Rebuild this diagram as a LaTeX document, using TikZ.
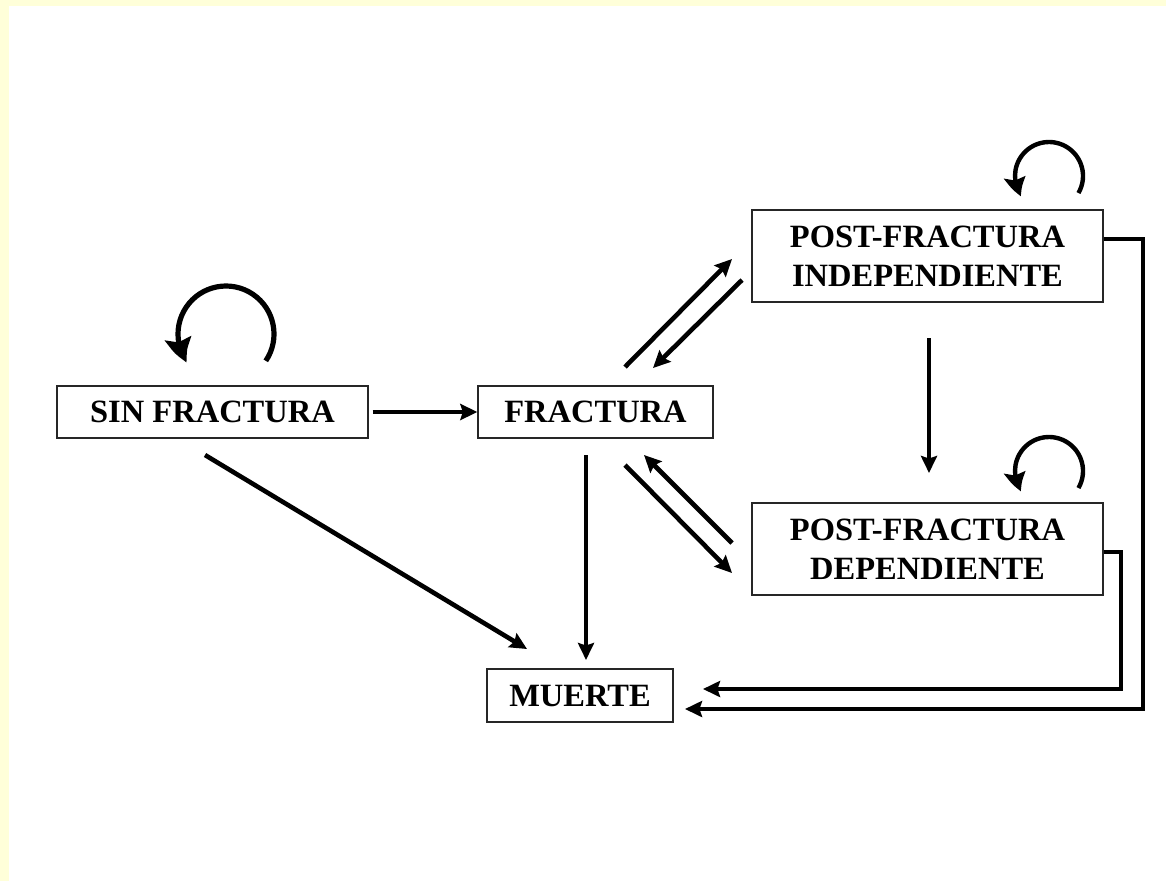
\documentclass[tikz,border=0pt]{standalone}
\usepackage{fontspec}
\setmainfont{Liberation Serif}
\usetikzlibrary{arrows.meta,bending}
\definecolor{bgyellow}{RGB}{255,255,217}
\begin{document}
\begin{tikzpicture}[x=1pt,y=-1pt,
  statebox/.style={draw=black!85,line width=1.3pt,fill=white,inner sep=0pt,align=center,
    font=\fontsize{32.5}{39}\selectfont\bfseries},
  arr/.style={line width=4.6pt,line join=miter,-{Stealth[length=17pt,width=16pt,inset=2.5pt]}},
  bigloop/.style={line width=5.2pt,-{Stealth[length=26pt,width=26pt,inset=4pt,bend]}},
  smallloop/.style={line width=4.4pt,-{Stealth[length=20pt,width=21pt,inset=3pt,bend]}}]
% background
\fill[white] (0,0) rectangle (1166,881);
\fill[bgyellow] (0,0) rectangle (1166,6);
\fill[bgyellow] (0,0) rectangle (9,881);
\useasboundingbox (0,0) rectangle (1166,881);

% nodes
\node[statebox,minimum width=311pt,minimum height=52pt] (sin) at (212.5,412) {SIN FRACTURA};
\node[statebox,minimum width=235pt,minimum height=52pt] (frac) at (595.5,412) {FRACTURA};
\node[statebox,minimum width=351pt,minimum height=92pt] (pfi) at (927.5,256) {POST-FRACTURA\\INDEPENDIENTE};
\node[statebox,minimum width=351pt,minimum height=92pt] (pfd) at (927.5,549) {POST-FRACTURA\\DEPENDIENTE};
\node[statebox,minimum width=186pt,minimum height=53pt] (muerte) at (580,695.5) {MUERTE};

% free ends of connectors
\coordinate (sinM0) at (205,455);
\coordinate (sinM1) at (527,649);
\coordinate (fM0) at (586,455);
\coordinate (fM1) at (586,660);
\coordinate (fI0) at (625,367);
\coordinate (fI1) at (732,259);
\coordinate (iF0) at (742,280);
\coordinate (iF1) at (653,368);
\coordinate (fD0) at (625,465);
\coordinate (fD1) at (732,573);
\coordinate (dF0) at (732,543);
\coordinate (dF1) at (644,455);
\coordinate (iD0) at (929,338);
\coordinate (iD1) at (929,473);
\coordinate (iM0) at (pfi.east |- 0,239);
\coordinate (iMc) at (1143,709);
\coordinate (iM1) at (685,709);
\coordinate (dM0) at (pfd.east |- 0,552);
\coordinate (dMc) at (1121,689);
\coordinate (dM1) at (703,689);

% connectors
\draw[arr,shorten <=4pt] (sin.east) -- (frac.west);
\draw[arr] (fM0) -- (fM1);
\draw[arr] (sinM0) -- (sinM1);
\draw[arr] (fI0) -- (fI1);
\draw[arr] (iF0) -- (iF1);
\draw[arr] (fD0) -- (fD1);
\draw[arr] (dF0) -- (dF1);
\draw[arr] (iD0) -- (iD1);
\draw[arr] (iM0) -| (iMc) -- (iM1);
\draw[arr] (dM0) -| (dMc) -- (dM1);

% self loops
\coordinate (cs) at (226,334);
\coordinate (ci) at (1049,176);
\coordinate (cd) at (1049,471);
\draw[bigloop] ([shift={(34:48)}]cs) arc[start angle=34,end angle=-216,radius=48];
\draw[smallloop] ([shift={(30:34)}]ci) arc[start angle=30,end angle=-216,radius=34];
\draw[smallloop] ([shift={(30:34)}]cd) arc[start angle=30,end angle=-216,radius=34];
\end{tikzpicture}
\end{document}
